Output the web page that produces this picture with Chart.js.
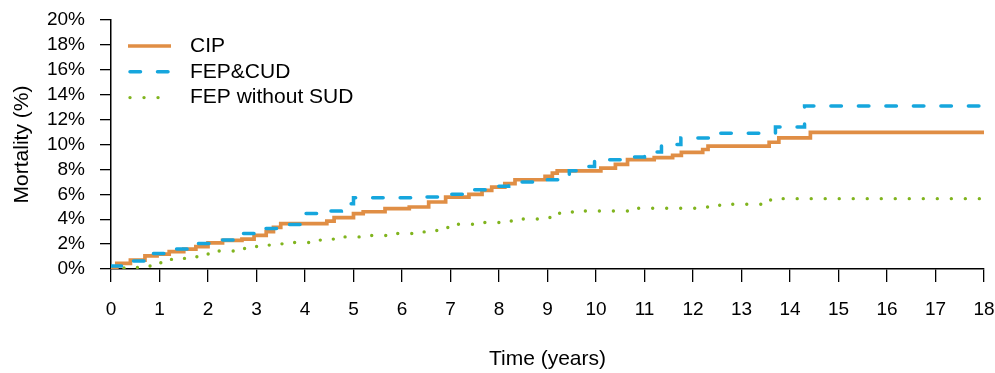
<!DOCTYPE html>
<html>
<head>
<meta charset="utf-8">
<title>Mortality over time</title>
<style>
  html, body { margin: 0; padding: 0; background: #ffffff; }
  #wrap { width: 995px; height: 373px; position: relative; }
</style>
<script src="https://cdn.jsdelivr.net/npm/chart.js@4.4.1/dist/chart.umd.min.js"></script>
</head>
<body>
<div id="wrap"><canvas id="chart" width="995" height="373"></canvas></div>
<script>
// Cumulative mortality (%) step curves: each time is when the curve steps up to the matching value.
const seriesNames = ['CIP', 'FEP&CUD', 'FEP without SUD'];

const cipTimes  = [0, 0.12, 0.4, 0.7, 0.95, 1.2, 1.5, 1.75, 2.0, 2.3, 2.7, 2.95, 3.2, 3.35, 3.5,
                   4.45, 4.6, 5.0, 5.2, 5.65, 6.15, 6.55, 6.9, 7.38, 7.65, 7.85, 8.12, 8.33, 8.95, 9.1,
                   9.2, 10.1, 10.4, 10.65, 11.2, 11.58, 11.76, 12.2, 12.31, 13.57, 13.77, 14.42, 18];
const cipValues = [0.15, 0.45, 0.72, 1.05, 1.2, 1.4, 1.6, 1.8, 2.1, 2.3, 2.4, 2.7, 3.0, 3.35, 3.65,
                   3.85, 4.13, 4.45, 4.6, 4.85, 4.98, 5.38, 5.78, 6.0, 6.32, 6.58, 6.85, 7.17, 7.44, 7.7,
                   7.88, 8.1, 8.4, 8.78, 8.94, 9.12, 9.36, 9.6, 9.87, 10.18, 10.53, 10.98, 10.98];

const cudTimes  = [0, 0.3, 0.7, 1.15, 1.6, 2.1, 2.55, 3.0, 3.45, 3.9, 4.3, 4.75, 5.0, 6.2, 6.8,
                   7.25, 7.8, 8.2, 8.7, 9.3, 9.45, 9.62, 9.97, 10.5, 11.0, 11.35, 11.75, 12.45, 13.7, 14.3, 18];
const cudValues = [0.24, 0.64, 1.25, 1.6, 2.05, 2.32, 2.85, 3.25, 3.57, 4.45, 4.66, 5.25, 5.73, 5.78, 6.0,
                   6.37, 6.64, 6.98, 7.17, 7.52, 7.9, 8.24, 8.78, 8.99, 9.39, 10.0, 10.53, 10.9, 11.4, 13.1, 13.1];

const fepTimes  = [0, 0.25, 0.5, 0.75, 1.0, 1.2, 1.45, 1.7, 1.95, 2.15, 2.65, 2.9, 3.15, 3.4, 3.7,
                   4.2, 4.45, 4.7, 5.25, 5.75, 6.3, 6.55, 6.8, 7.0, 7.55, 8.05, 8.3, 9.05, 9.3, 9.55,
                   10.65, 12.3, 12.55, 13.6, 18];
const fepValues = [0, 0.08, 0.13, 0.24, 0.5, 0.77, 0.85, 0.98, 1.2, 1.44, 1.65, 1.81, 1.92, 2.02, 2.13,
                   2.32, 2.4, 2.58, 2.69, 2.85, 2.98, 3.09, 3.33, 3.6, 3.73, 3.86, 4.02, 4.48, 4.58, 4.66,
                   4.88, 5.04, 5.2, 5.65, 5.65];

// Axis ranges and tick spacing
const xRange = [0, 18];
const xStep = 1;
const yRange = [0, 20];
const yStep = 2;

const FONT = '"Liberation Sans", Arial, Helvetica, sans-serif';
Chart.defaults.font.family = FONT;
Chart.defaults.color = '#000000';

function toPoints(times, values) {
  return times.map((t, i) => ({ x: t, y: values[i] }));
}

// Legend drawn as short line samples with the dataset styles, placed inside the plot area
const lineLegend = {
  id: 'lineLegend',
  afterDatasetsDraw(chart) {
    const { ctx, chartArea } = chart;
    const x0 = chartArea.left + 17;
    const x1 = x0 + 43;
    const tx = chartArea.left + 79;
    ctx.save();
    ctx.font = '21px ' + FONT;
    ctx.textBaseline = 'middle';
    ctx.textAlign = 'left';
    chart.data.datasets.forEach((ds, i) => {
      const y = chartArea.top + 26 + i * 25.8;
      ctx.beginPath();
      ctx.strokeStyle = ds.borderColor;
      ctx.lineWidth = ds.borderWidth;
      ctx.lineCap = ds.borderCapStyle || 'butt';
      ctx.setLineDash(ds.borderDash || []);
      ctx.lineDashOffset = ds.legendDashOffset || 0;
      ctx.moveTo(x0, y);
      ctx.lineTo(x1, y);
      ctx.stroke();
      ctx.setLineDash([]);
      ctx.fillStyle = '#000000';
      ctx.fillText(ds.label, tx, y);
    });
    ctx.restore();
  }
};

new Chart(document.getElementById('chart'), {
  type: 'line',
  data: {
    datasets: [
      {
        label: seriesNames[0],
        data: toPoints(cipTimes, cipValues),
        borderColor: '#E08E45',
        borderWidth: 3.7,
        borderCapStyle: 'butt',
        stepped: 'before',
        pointRadius: 0,
        order: 1
      },
      {
        label: seriesNames[1],
        data: toPoints(cudTimes, cudValues),
        borderColor: '#16A6DD',
        borderWidth: 3.5,
        borderDash: [10.5, 17],
        borderCapStyle: 'round',
        legendDashOffset: -2,
        stepped: 'before',
        pointRadius: 0,
        order: 0
      },
      {
        label: seriesNames[2],
        data: toPoints(fepTimes, fepValues),
        borderColor: '#80B41E',
        borderWidth: 3.4,
        borderDash: [0.01, 14],
        borderCapStyle: 'round',
        legendDashOffset: -2,
        stepped: 'before',
        pointRadius: 0,
        order: 2
      }
    ]
  },
  options: {
    responsive: false,
    animation: false,
    devicePixelRatio: 1,
    layout: { padding: { left: 0, right: 11, top: 20, bottom: 0 } },
    plugins: {
      legend: { display: false },
      tooltip: { enabled: false }
    },
    scales: {
      x: {
        type: 'linear',
        min: xRange[0],
        max: xRange[1],
        afterFit(scale) {
          scale.height = 104;
          scale.paddingLeft = 0;
          scale.paddingRight = 0;
        },
        ticks: {
          stepSize: xStep,
          autoSkip: false,
          maxRotation: 0,
          padding: 16,
          color: '#000000',
          font: { size: 19 }
        },
        grid: {
          drawOnChartArea: false,
          drawTicks: true,
          tickLength: 13,
          color: '#000000',
          lineWidth: 1.3
        },
        border: { display: true, color: '#000000', width: 1.5 },
        title: {
          display: true,
          text: 'Time (years)',
          color: '#000000',
          font: { size: 21 },
          padding: { top: 0, bottom: 1 }
        }
      },
      y: {
        type: 'linear',
        min: yRange[0],
        max: yRange[1],
        afterFit(scale) {
          scale.width = 111;
          scale.paddingTop = 0;
          scale.paddingBottom = 0;
        },
        ticks: {
          stepSize: yStep,
          autoSkip: false,
          padding: 15,
          color: '#000000',
          font: { size: 19 },
          callback: (v) => v + '%'
        },
        grid: {
          drawOnChartArea: false,
          drawTicks: true,
          tickLength: 11,
          color: '#000000',
          lineWidth: 1.3
        },
        border: { display: true, color: '#000000', width: 1.5 },
        title: {
          display: true,
          text: 'Mortality (%)',
          color: '#000000',
          font: { size: 21 },
          padding: { top: 10, bottom: 0 }
        }
      }
    }
  },
  plugins: [lineLegend]
});
</script>
</body>
</html>
